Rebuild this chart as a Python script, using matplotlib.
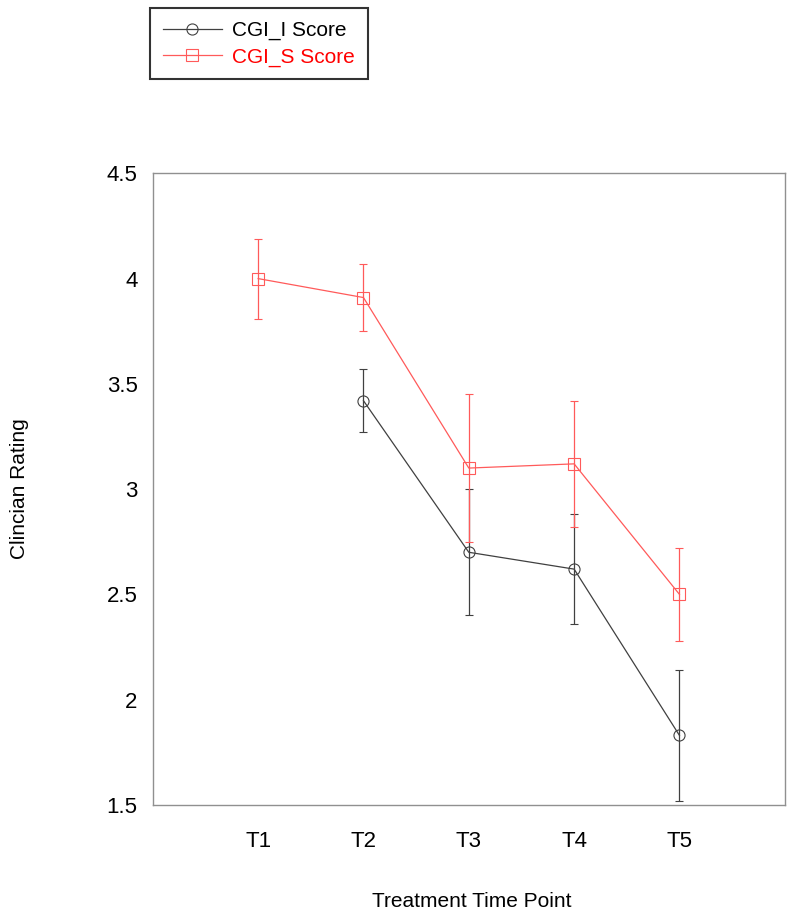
import matplotlib
matplotlib.use("Agg")
import matplotlib.pyplot as plt
from matplotlib.lines import Line2D
import numpy as np

plt.rcParams['font.family'] = ['Liberation Sans', 'DejaVu Sans']

time_points = ["T1", "T2", "T3", "T4", "T5"]
cgi_i_x = [2, 3, 4, 5]
cgi_i_mean = [3.42, 2.70, 2.62, 1.83]
cgi_i_err = [0.15, 0.30, 0.26, 0.31]
cgi_s_x = [1, 2, 3, 4, 5]
cgi_s_mean = [4.00, 3.91, 3.10, 3.12, 2.50]
cgi_s_err = [0.19, 0.16, 0.35, 0.30, 0.22]

fig = plt.figure(figsize=(8, 9.22), dpi=100)
ax = fig.add_axes([0.191, 0.127, 0.790, 0.685])

black = '#404040'
red = '#ff5a5a'
ax.errorbar(cgi_i_x, cgi_i_mean, yerr=cgi_i_err, color=black, lw=0.9,
            marker='o', ms=8, mfc='none', mec=black, mew=0.8,
            capsize=3, elinewidth=0.9, capthick=0.9)
ax.errorbar(cgi_s_x, cgi_s_mean, yerr=cgi_s_err, color=red, lw=0.9,
            marker='s', ms=8, mfc='none', mec=red, mew=0.8,
            capsize=3, elinewidth=0.9, capthick=0.9)

ax.set_xlim(0, 6)
ax.set_ylim(1.5, 4.5)
ax.set_xticks(range(1, 6))
ax.set_xticklabels(time_points)
ax.set_yticks([1.5, 2, 2.5, 3, 3.5, 4, 4.5])
ax.set_yticklabels(['1.5', '2', '2.5', '3', '3.5', '4', '4.5'])
ax.tick_params(length=0, labelsize=16)
ax.tick_params(axis='x', pad=19)
ax.tick_params(axis='y', pad=11)
for s in ax.spines.values():
    s.set_color('#909090')
    s.set_linewidth(1)

fig.text(0.59, 0.022, 'Treatment Time Point', ha='center', va='center', fontsize=15)
fig.text(0.025, 0.47, 'Clincian Rating', ha='center', va='center', rotation=90, fontsize=15)

h1 = Line2D([], [], color=black, lw=0.9, marker='o', ms=8, mfc='none', mec=black, mew=0.8)
h2 = Line2D([], [], color=red, lw=0.9, marker='s', ms=8, mfc='none', mec=red, mew=0.8)
leg = fig.legend(handles=[h1, h2], labels=['CGI_I Score', 'CGI_S Score'],
                 loc='upper left', bbox_to_anchor=(0.1875, 0.991),
                 fontsize=15, handlelength=2.85, frameon=True, fancybox=False,
                 edgecolor='black', borderpad=0.6, labelspacing=0.35, handletextpad=0.5,
                 borderaxespad=0)
leg.get_frame().set_linewidth(1.5)
leg.get_texts()[1].set_color('red')

fig.savefig('out.png', dpi=100)
